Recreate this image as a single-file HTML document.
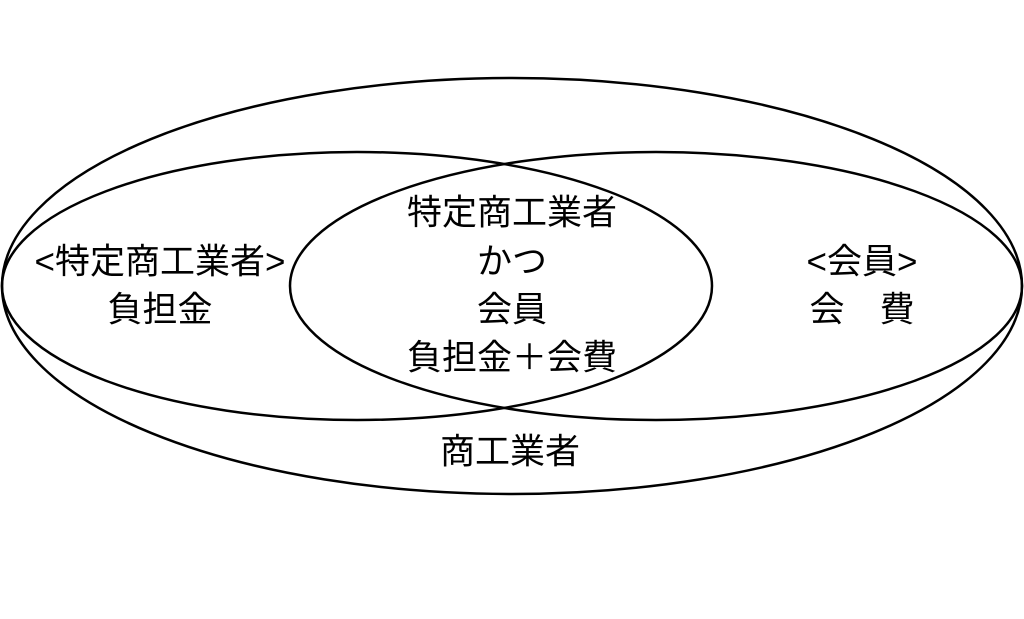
<!DOCTYPE html>
<html><head><meta charset="utf-8"><style>
html,body{margin:0;padding:0;background:#fff;}
svg{display:block}
text{font-family:"Liberation Sans","Noto Sans CJK JP",sans-serif;font-size:35px;fill:#000;text-anchor:middle;dominant-baseline:central}
</style></head><body>
<svg width="1024" height="619" viewBox="0 0 1024 619">
<g fill="none" stroke="#000" stroke-width="2.5">
<ellipse cx="512" cy="286" rx="510" ry="208"/>
<ellipse cx="357" cy="286" rx="355" ry="134"/>
<ellipse cx="656" cy="286" rx="366" ry="134"/>
</g>
<text x="160" y="262">&lt;特定商工業者&gt;</text>
<text x="160" y="310">負担金</text>
<text x="512" y="213">特定商工業者</text>
<text x="512" y="262">かつ</text>
<text x="512" y="310">会員</text>
<text x="512" y="358">負担金＋会費</text>
<text x="862" y="262">&lt;会員&gt;</text>
<text x="862" y="310">会　費</text>
<text x="510" y="452">商工業者</text>
</svg>
</body></html>
